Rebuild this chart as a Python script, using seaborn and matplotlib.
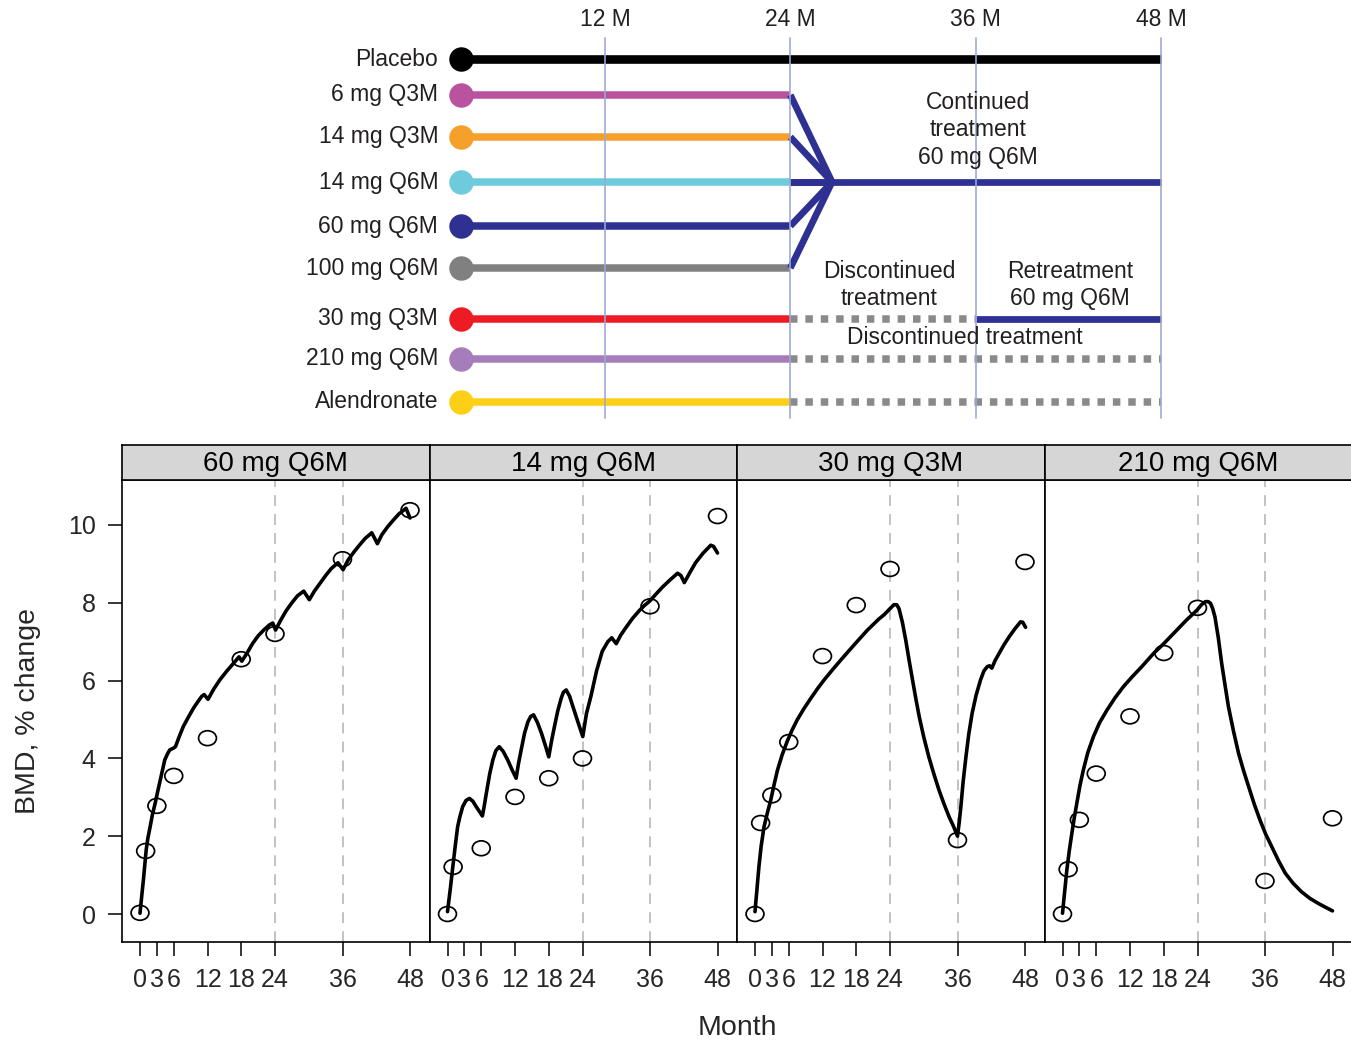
import numpy as np
import pandas as pd
import matplotlib
matplotlib.use("Agg")
import matplotlib.pyplot as plt
from matplotlib.path import Path
from matplotlib.transforms import Affine2D
import seaborn as sns

# ---------------- study design (schema) ----------------
arms = ["Placebo", "6 mg Q3M", "14 mg Q3M", "14 mg Q6M", "60 mg Q6M",
        "100 mg Q6M", "30 mg Q3M", "210 mg Q6M", "Alendronate"]
arm_colors = ["#000000", "#b9529f", "#f6a02c", "#6dcbdc", "#2e3192",
              "#808080", "#ed1c24", "#a67dbb", "#fdd017"]
schema_months = [12, 24, 36, 48]
schema_tick_labels = ["12 M", "24 M", "36 M", "48 M"]
continued_arms = ["6 mg Q3M", "14 mg Q3M", "14 mg Q6M", "60 mg Q6M", "100 mg Q6M"]
retreated_arm = "30 mg Q3M"
discontinued_arms = ["210 mg Q6M", "Alendronate"]

# ---------------- observed BMD (% change) ----------------
panels = ["60 mg Q6M", "14 mg Q6M", "30 mg Q3M", "210 mg Q6M"]
obs_months = [0, 1, 3, 6, 12, 18, 24, 36, 48]
obs_60_q6m = [0.03, 1.62, 2.78, 3.55, 4.52, 6.55, 7.20, 9.12, 10.38]
obs_14_q6m = [0.0, 1.21, np.nan, 1.69, 3.01, 3.49, 4.00, 7.91, 10.23]
obs_30_q3m = [0.0, 2.34, 3.05, 4.42, 6.63, 7.94, 8.87, 1.90, 9.05]
obs_210_q6m = [0.0, 1.15, 2.42, 3.61, 5.08, 6.71, 7.87, 0.85, 2.46]

# ---------------- model-predicted BMD (% change) ----------------
pred_60_q6m_month = [0, 0.3, 0.6, 1.1, 1.4, 1.8, 2.2, 2.7, 3.1, 3.6, 4.0, 4.4, 4.9, 5.3,
                     5.9, 6.3, 7.0, 7.7, 8.6, 9.5, 10.3, 11.0, 11.4, 12.1, 13.1, 14.2,
                     15.4, 16.6, 17.6, 18.1, 19, 20, 21, 22, 23, 23.6, 24.1,
                     25, 26, 27, 28, 29.1, 30.1, 31, 32, 33, 34, 35.2, 36.1,
                     37, 38, 39, 40, 41.2, 42.2, 43, 44, 45, 46, 47.3, 48]
pred_60_q6m = [0.02, 0.45, 0.87, 1.65, 1.95, 2.24, 2.55, 2.85, 3.12, 3.44, 3.70, 3.96, 4.12, 4.22,
               4.26, 4.30, 4.57, 4.82, 5.06, 5.29, 5.46, 5.60, 5.64, 5.52, 5.78, 6.02,
               6.24, 6.44, 6.61, 6.50, 6.70, 6.95, 7.15, 7.30, 7.43, 7.48, 7.30,
               7.55, 7.80, 8.00, 8.18, 8.30, 8.08, 8.30, 8.50, 8.70, 8.88, 9.03, 8.85,
               9.10, 9.30, 9.48, 9.65, 9.80, 9.52, 9.75, 9.95, 10.12, 10.28, 10.43, 10.18]

pred_14_q6m_month = [0, 0.5, 0.95, 1.4, 1.8, 2.2, 2.7, 3.3, 3.9, 4.5, 5.1, 6.2,
                     6.5, 6.9, 7.5, 8.06, 8.6, 9.2, 9.9, 10.7, 11.5, 12.2,
                     12.6, 13.1, 13.7, 14.3, 14.8, 15.3, 16.0, 16.7, 17.4, 18.0,
                     18.5, 19.0, 19.6, 20.2, 20.6, 21.1, 21.7, 22.3, 23.2, 24.05,
                     24.7, 25.5, 26.5, 27.5, 28.5, 29.2, 30.0, 30.8, 31.7, 32.9,
                     34.1, 35.0, 36.0, 37.1, 38.2, 39.5, 40.9, 41.5, 42.1, 43.1,
                     44.1, 45.4, 46.8, 47.3, 48.0]
pred_14_q6m = [0.06, 0.65, 1.22, 1.78, 2.24, 2.50, 2.76, 2.92, 2.97, 2.90, 2.76, 2.52,
               2.75, 3.10, 3.60, 3.96, 4.20, 4.30, 4.18, 3.96, 3.70, 3.49,
               3.85, 4.22, 4.65, 4.94, 5.08, 5.12, 4.92, 4.65, 4.33, 4.04,
               4.45, 4.81, 5.22, 5.54, 5.70, 5.76, 5.60, 5.33, 4.93, 4.56,
               5.15, 5.60, 6.25, 6.75, 7.00, 7.10, 6.95, 7.17, 7.36, 7.60,
               7.80, 7.93, 8.05, 8.23, 8.40, 8.58, 8.76, 8.70, 8.52, 8.78,
               9.03, 9.27, 9.48, 9.45, 9.28]

pred_30_q3m_month = [0, 0.7, 1.1, 1.6, 2.2, 2.8, 3.4, 4.0, 4.8, 5.7, 6.6, 7.5, 8.7,
                     9.9, 11.1, 12.3, 13.9, 15.5, 18, 20, 22, 23, 24, 24.7, 25.2,
                     25.6, 26.2, 26.8, 27.4, 28.0, 28.6, 29.2, 30.0, 30.9, 31.8,
                     32.7, 33.6, 34.5, 35.3, 36.0, 36.3, 36.6, 37.0, 37.5, 38.0,
                     38.6, 39.3, 40.1, 40.7, 41.3, 41.7, 42.1, 42.7, 43.4, 44.3,
                     45.2, 46.2, 47.2, 47.6, 48.1]
pred_30_q3m = [0.06, 1.22, 1.75, 2.24, 2.60, 2.93, 3.33, 3.70, 4.08, 4.43, 4.73, 4.99, 5.28,
               5.54, 5.79, 6.02, 6.30, 6.57, 6.98, 7.30, 7.58, 7.70, 7.85, 7.95, 7.95,
               7.85, 7.50, 7.04, 6.52, 6.02, 5.53, 5.07, 4.55, 4.04, 3.60,
               3.19, 2.83, 2.50, 2.25, 2.00, 2.35, 2.76, 3.40, 4.04, 4.62,
               5.16, 5.62, 6.02, 6.25, 6.36, 6.38, 6.32, 6.52, 6.70, 6.93,
               7.13, 7.33, 7.51, 7.50, 7.37]

pred_210_q6m_month = [0, 0.77, 1.2, 1.66, 2.1, 2.55, 3.1, 3.7, 4.5, 5.5, 6.6, 7.9, 9.3,
                      10.8, 12.4, 14.1, 16.2, 18, 20.6, 22, 23.9, 24.7, 25.4, 25.9,
                      26.3, 26.7, 27.1, 27.7, 28.3, 28.9, 29.5, 30.4, 31.3, 32.2,
                      33.1, 34.1, 35.1, 36.1, 37.2, 38.4, 39.6, 41.0, 42.5, 44.0,
                      45.5, 46.8, 48]
pred_210_q6m = [0.02, 1.13, 1.62, 2.07, 2.48, 2.85, 3.30, 3.70, 4.15, 4.56, 4.92, 5.24, 5.55,
                5.84, 6.10, 6.36, 6.70, 6.95, 7.34, 7.55, 7.81, 7.95, 8.03, 8.03,
                7.99, 7.85, 7.64, 7.10, 6.44, 5.88, 5.33, 4.70, 4.13, 3.68,
                3.27, 2.82, 2.42, 2.06, 1.73, 1.37, 1.05, 0.79, 0.57, 0.40,
                0.27, 0.17, 0.08]

month_ticks = [0, 3, 6, 12, 18, 24, 36, 48]
bmd_ticks = [0, 2, 4, 6, 8, 10]

obs = pd.concat([
    pd.DataFrame({"panel": p, "Month": obs_months, "BMD": v})
    for p, v in zip(panels, [obs_60_q6m, obs_14_q6m, obs_30_q3m, obs_210_q6m])
]).dropna()
pred = pd.concat([
    pd.DataFrame({"panel": p, "Month": m, "BMD": v})
    for p, m, v in zip(panels,
                       [pred_60_q6m_month, pred_14_q6m_month, pred_30_q3m_month, pred_210_q6m_month],
                       [pred_60_q6m, pred_14_q6m, pred_30_q3m, pred_210_q6m])
])

# ---------------- figure ----------------
sns.set_style("white")
plt.rcParams["font.family"] = ["Liberation Sans", "DejaVu Sans"]

W, H = 1351, 1042
fig = plt.figure(figsize=(W / 100, H / 100), dpi=100)


def rect(x0, y0, x1, y1):
    return [x0 / W, 1 - y1 / H, (x1 - x0) / W, (y1 - y0) / H]


# ----- schema panel (x in months, y in layout rows) -----
row_y = [59, 95, 137, 182, 226, 268, 319, 359, 402]
x0_px, px_per_month = 419.7, 15.444
sax = fig.add_axes(rect(0, 0, W, 440))
sax.set_xlim(-x0_px / px_per_month, (W - x0_px) / px_per_month)
sax.set_ylim(440, 0)
sax.axis("off")

start_m, merge_m = 2.67, 26.7
text_col = "#231f20"
navy = "#2e3192"
dot_gray = "#8a8a8a"
lw = 5.4
fs_schema = 16.5

for m, lab in zip(schema_months, schema_tick_labels):
    sax.plot([m, m], [38, 418], color="#9aa8d6", lw=1.3, zorder=5, alpha=0.9)
    sax.text(m, 19, lab, ha="center", va="center", fontsize=fs_schema, color=text_col)

yrow = dict(zip(arms, row_y))
for arm, col, y in zip(arms, arm_colors, row_y):
    end = 48 if arm == "Placebo" else 24
    sax.plot([start_m, end], [y, y], color=col, lw=lw + (0.8 if arm == "Placebo" else 0),
             solid_capstyle="butt", zorder=3)
    sax.scatter([start_m], [y], s=310, color=col, zorder=4, linewidths=0)
    sax.text(1.2, y, arm, ha="right", va="center", fontsize=fs_schema, color=text_col)

ymerge = yrow["14 mg Q6M"]
for arm in continued_arms:
    sax.plot([24, merge_m], [yrow[arm], ymerge], color=navy, lw=lw * 0.9,
             solid_capstyle="butt", zorder=3)
sax.plot([24, 48], [ymerge, ymerge], color=navy, lw=lw * 0.9, solid_capstyle="butt", zorder=3)

yr = yrow[retreated_arm]
sax.plot([24, 36], [yr, yr], color=dot_gray, lw=lw, ls=(0, (1, 1.05)),
         dash_capstyle="butt", zorder=3)
sax.plot([36, 48], [yr, yr], color=navy, lw=lw * 0.9, solid_capstyle="butt", zorder=3)
for arm in discontinued_arms:
    y = yrow[arm]
    sax.plot([24, 48], [y, y], color=dot_gray, lw=lw, ls=(0, (1, 1.05)),
             dash_capstyle="butt", zorder=3)

for x, y, s in [(36.17, 130, "Continued\ntreatment\n60 mg Q6M"),
                (30.4, 285, "Discontinued\ntreatment"),
                (42.1, 285, "Retreatment\n60 mg Q6M"),
                (35.3, 337, "Discontinued treatment")]:
    sax.text(x, y, s, ha="center", va="center", fontsize=fs_schema, color=text_col,
             linespacing=1.25, zorder=6)

# ----- BMD panels -----
ellipse = Path.unit_circle().transformed(Affine2D().scale(1.2, 1.0))
panel_left = [122, 429.5, 737, 1044.5]
panel_w = 307.5
top_px, strip_px, bot_px = 445, 480, 942
ylim = ((914 - bot_px) / 38.9, (914 - strip_px) / 38.9)
xlim = (-18.0 / 5.625, -18.0 / 5.625 + panel_w / 5.625)

for i, (p, lx) in enumerate(zip(panels, panel_left)):
    ax = fig.add_axes(rect(lx, strip_px, lx + panel_w, bot_px))
    for v in (24, 36):
        ax.axvline(v, color="#bdbdbd", lw=1.3, ls=(0, (6, 4.5)), zorder=1)
    sns.lineplot(data=pred[pred.panel == p], x="Month", y="BMD", ax=ax, sort=False,
                 estimator=None, color="black", lw=2.6, zorder=3,
                 solid_joinstyle="round", solid_capstyle="round")
    sns.scatterplot(data=obs[obs.panel == p], x="Month", y="BMD", ax=ax,
                    marker=ellipse, s=165, facecolor="none", edgecolor="black",
                    linewidth=1.25, zorder=4)
    ax.set_xlim(*xlim)
    ax.set_ylim(*ylim)
    ax.set_xticks(month_ticks)
    ax.set_xticklabels([str(t) for t in month_ticks])
    ax.set_xlabel("")
    ax.set_ylabel("")
    ax.tick_params(axis="x", direction="out", length=10, width=1.1, pad=9,
                   labelsize=18, bottom=True, color="black")
    ax.set_yticks(bmd_ticks)
    if i == 0:
        ax.tick_params(axis="y", direction="out", length=10, width=1.1, pad=9,
                       labelsize=18, left=True, color="black")
    else:
        ax.tick_params(axis="y", left=False, labelleft=False)
    for s in ax.spines.values():
        s.set_color("black")
        s.set_linewidth(1.2)

    sx = fig.add_axes(rect(lx, top_px, lx + panel_w, strip_px))
    sx.set_facecolor("#d6d6d6")
    sx.set_xticks([])
    sx.set_yticks([])
    for s in sx.spines.values():
        s.set_color("black")
        s.set_linewidth(1.2)
    sx.text(0.5, 0.45, p, transform=sx.transAxes, ha="center", va="center",
            fontsize=20, color="black")

fig.text(28 / W, 1 - 711 / H, "BMD, % change", rotation=90, ha="center", va="center",
         fontsize=20.5)
fig.text(737 / W, 1 - 1028 / H, "Month", ha="center", va="center", fontsize=20.5)

fig.savefig("out.png", dpi=100)
